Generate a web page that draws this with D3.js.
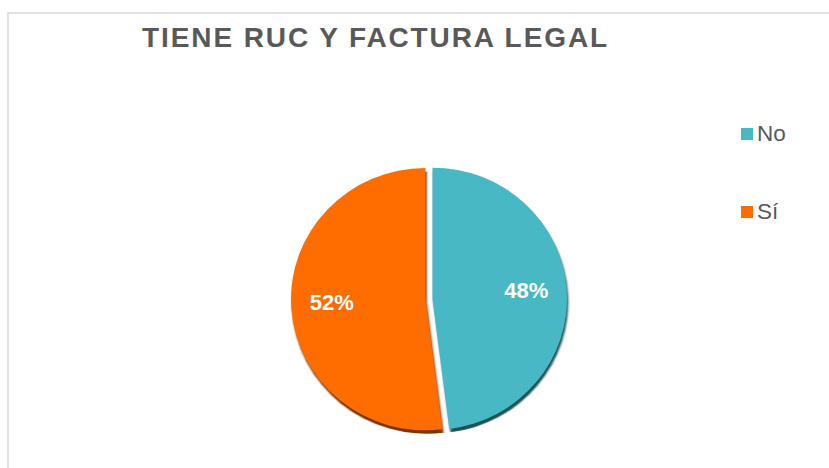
<!DOCTYPE html>
<html>
<head>
<meta charset="utf-8">
<script src="https://cdn.jsdelivr.net/npm/d3@7"></script>
<style>
  body { margin: 0; background: #ffffff; }
  svg { display: block; font-family: Arial, "Liberation Sans", sans-serif; }
</style>
</head>
<body>
<div id="chart"></div>
<script>
"use strict";

// Data
var categories = ["No", "Sí"];
var values = [48, 52];
var labels = ["48%", "52%"];
var colors = ["#48b9c4", "#ff6d00"];
var shadowColors = ["#1c5257", "#7a3500"];

var width = 829, height = 468;

var svg = d3.select("#chart")
            .append("svg")
            .attr("width", width)
            .attr("height", height);

// chart area border (runs off the right and bottom edges)
svg.append("rect")
   .attr("x", 8)
   .attr("y", 13)
   .attr("width", width)
   .attr("height", height)
   .attr("fill", "none")
   .attr("stroke", "#d9d9d9")
   .attr("stroke-width", 1.5);

// Title
svg.append("text")
   .attr("x", 142)
   .attr("y", 47)
   .attr("font-size", 28)
   .attr("font-weight", "bold")
   .attr("letter-spacing", 1.9)
   .attr("fill", "#595959")
   .text("TIENE RUC Y FACTURA LEGAL");

// blur for the drop shadow
var defs = svg.append("defs");
defs.append("filter")
    .attr("id", "soft")
    .attr("x", "-10%").attr("y", "-10%")
    .attr("width", "120%").attr("height", "120%")
    .append("feGaussianBlur")
    .attr("stdDeviation", 0.8);

// Pie
var radius = 134.5;
var explode = 3.5;

var pie = d3.pie()
            .sort(null)
            .value(function (d) { return d; });

var arc = d3.arc()
            .innerRadius(0)
            .outerRadius(radius);

var arcs = pie(values);

var pieG = svg.append("g")
              .attr("transform", "translate(429,299) scale(1,0.975)");

var offset = function (d) {
  var a = (d.startAngle + d.endAngle) / 2;
  return [Math.sin(a) * explode, -Math.cos(a) * explode];
};

// shadows first
pieG.selectAll("path.shadow")
    .data(arcs)
    .enter()
    .append("path")
    .attr("class", "shadow")
    .attr("d", arc)
    .attr("fill", function (d, i) { return shadowColors[i]; })
    .attr("filter", "url(#soft)")
    .attr("transform", function (d) {
      var o = offset(d);
      return "translate(" + (o[0] + 1.2) + "," + (o[1] + 3.5) + ")";
    });

pieG.selectAll("path.slice")
    .data(arcs)
    .enter()
    .append("path")
    .attr("class", "slice")
    .attr("d", arc)
    .attr("fill", function (d, i) { return colors[i]; })
    .attr("transform", function (d) {
      var o = offset(d);
      return "translate(" + o[0] + "," + o[1] + ")";
    });

// percentage labels
var labelArc = d3.arc()
                 .innerRadius(94)
                 .outerRadius(94);

pieG.selectAll("text.pct")
    .data(arcs)
    .enter()
    .append("text")
    .attr("class", "pct")
    .attr("transform", function (d) {
      var c = labelArc.centroid(d);
      var o = offset(d);
      return "translate(" + (c[0] + o[0]) + "," + (c[1] + o[1] + 5) + ") scale(1," + (1 / 0.975) + ")";
    })
    .attr("text-anchor", "middle")
    .attr("font-size", 22)
    .attr("font-weight", "bold")
    .attr("fill", "#ffffff")
    .text(function (d, i) { return labels[i]; });

// Legend
var legendY = d3.scalePoint()
                .domain(categories)
                .range([141, 219]);

var legend = svg.selectAll("g.legend")
                .data(categories)
                .enter()
                .append("g")
                .attr("class", "legend")
                .attr("transform", function (d) { return "translate(741," + legendY(d) + ")"; });

legend.append("rect")
      .attr("x", 0)
      .attr("y", -13)
      .attr("width", 12)
      .attr("height", 12)
      .attr("fill", function (d, i) { return colors[i]; });

legend.append("text")
      .attr("x", 16)
      .attr("y", 0)
      .attr("font-size", 22.5)
      .attr("fill", "#595959")
      .text(function (d) { return d; });
</script>
</body>
</html>
